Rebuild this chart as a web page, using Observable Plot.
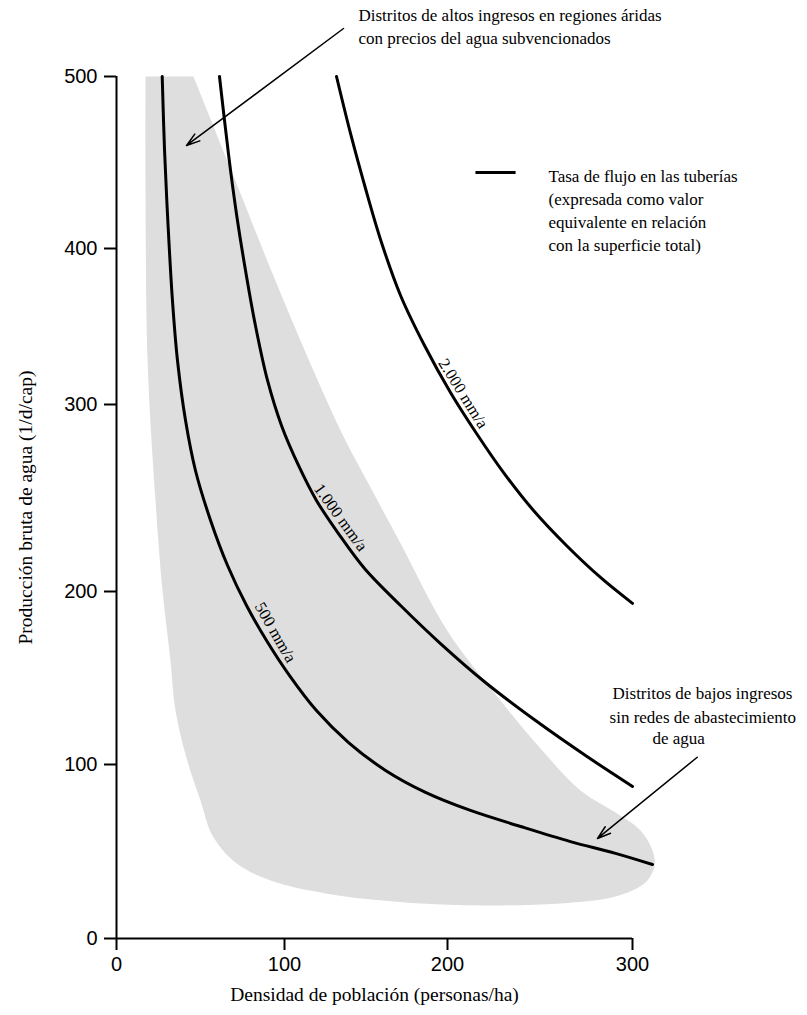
<!DOCTYPE html>
<html>
<head>
<meta charset="utf-8">
<script src="https://cdn.jsdelivr.net/npm/d3@7"></script>
<script src="https://cdn.jsdelivr.net/npm/@observablehq/plot@0.6"></script>
<style>
  body { margin: 0; background: #fff; }
</style>
</head>
<body>
<div id="chart"></div>
<script>
// Tick values
const xTicks = [0, 100, 200, 300];
const yTicks = [0, 100, 200, 300, 400, 500];

// Pipe flow-rate curves: density (persons/ha) and gross water production (l/d/cap)
const dens500  = [27.2, 28.6, 30.7, 33.3, 36.3, 41.1, 47.0, 56.0, 66.1, 77.4, 89.3, 103.1, 119.6, 139.3, 162, 186.5, 212.4, 239.5, 266.5, 290.8, 310.8];
const prod500  = [500, 457, 413.4, 366.7, 328.2, 291.4, 264.7, 238, 213.9, 191.9, 171.7, 151.4, 131.2, 112.7, 96.6, 84, 73.6, 64.4, 55.7, 48.9, 42.5];
const dens1000 = [61.3, 64.3, 67.9, 72.0, 76.8, 82.7, 89.9, 98.2, 108.6, 119.6, 133.1, 149.1, 171.2, 195.7, 220.5, 247.6, 274.6, 300];
const prod1000 = [500, 474.4, 445.3, 416.3, 385.9, 350.6, 315.4, 288.8, 267.4, 248.7, 231, 212.3, 191.9, 169.9, 147.4, 125.4, 105.2, 87.4];
const dens2000 = [131.9, 140.5, 149.7, 159.5, 171.2, 185.9, 201.6, 215.7, 230.3, 246.5, 264.3, 282.7, 300];
const prod2000 = [500, 466.9, 434.9, 403.5, 369.9, 337.8, 307.7, 284.5, 263.6, 243.3, 224.6, 207.5, 193.1];

// Shaded envelope of observed districts (outline, clockwise from top-right)
const envDens = [45.8, 67.9, 89.7, 109.8, 134.4, 152.8, 171.2, 199.8, 228.6, 250.3, 271.9, 290.8, 304.3, 310.8, 311.9, 307, 290.8, 261.1, 228.6, 196.2, 160.1, 125.2, 91.7, 70.8, 57.1, 50, 42.1, 35.1, 32.1, 27.4, 23.2, 18.5, 17.3, 17.3];
const envProd = [500, 446.5, 392.3, 341, 286.1, 255.6, 225.7, 177.5, 137, 109.2, 85.1, 72.4, 62.1, 50.6, 42, 32.2, 24.1, 20.1, 19, 19.5, 21.8, 25.9, 33.3, 43.7, 59.2, 79.3, 102.3, 131.2, 160.1, 200.5, 248.7, 328.2, 427.9, 500];

// Curve labels
const curveLabels = [
  {text: "500 mm/a",   x: 94.6,  y: 176.3, angle: 60},
  {text: "1.000 mm/a", x: 134.4, y: 239.6, angle: 54},
  {text: "2.000 mm/a", x: 208.5, y: 307,   angle: 58}
];

// Annotations
const notes = [
  {text: "Distritos de altos ingresos en regiones áridas\ncon precios del agua subvencionados", x: 145.4, y: 541.5},
  {text: "Tasa de flujo en las tuberías\n(expresada como valor\nequivalente en relación\ncon la superficie total)", x: 254.6, y: 448}
];
const noteLow = [
  {text: "Distritos de bajos ingresos", x: 289.2, y: 141},
  {text: "sin redes de abastecimiento", x: 287.6, y: 127.2},
  {text: "de agua", x: 310.8, y: 115}
];
const arrows = [
  {x1: 136.2, y1: 527.9, x2: 41.7, y2: 459.9},
  {x1: 335, y1: 104.2, x2: 281.1, y2: 57.5}
];
const legendLine = [{x1: 215.1, x2: 236.8, y: 444.2}];

const curves = [
  ...dens500.map((d, i) => ({rate: "500", x: d, y: prod500[i]})),
  ...dens1000.map((d, i) => ({rate: "1000", x: d, y: prod1000[i]})),
  ...dens2000.map((d, i) => ({rate: "2000", x: d, y: prod2000[i]}))
];
const envelope = envDens.map((d, i) => ({x: d, y: envProd[i]}));

const serif = "'Liberation Serif', 'Times New Roman', serif";
const sans = "'Liberation Sans', Arial, sans-serif";

const chart = Plot.plot({
  width: 807,
  height: 1015,
  marginLeft: 116,
  marginRight: 175,
  marginTop: 76,
  marginBottom: 77,
  style: {fontFamily: serif, fontSize: "16px", color: "black", background: "white", overflow: "visible"},
  x: {type: "linear", domain: xTicks, range: [116, 284, 447, 632]},
  y: {type: "linear", domain: yTicks, range: [938, 764, 591, 404, 248, 76]},
  marks: [
    Plot.line(envelope, {x: "x", y: "y", fill: "#dedede", stroke: "none", curve: "catmull-rom"}),
    Plot.line(curves, {x: "x", y: "y", z: "rate", stroke: "black", strokeWidth: 3, curve: "catmull-rom"}),
    Plot.text(curveLabels, {x: "x", y: "y", text: "text", rotate: "angle", fontSize: 16.5, fontFamily: serif, fill: "black"}),
    Plot.ruleX([0], {y1: 0, y2: 500, strokeWidth: 2}),
    Plot.ruleY([0], {x1: 0, x2: 300, strokeWidth: 2}),
    Plot.axisX({ticks: xTicks, tickSize: 12, tickPadding: 6, strokeWidth: 2, fontSize: 20, fontFamily: sans, label: null, tickFormat: d => d}),
    Plot.axisY({ticks: yTicks, tickSize: 12, tickPadding: 7, strokeWidth: 2, fontSize: 20, fontFamily: sans, label: null, tickFormat: d => d}),
    Plot.text(["Densidad de población (personas/ha)"], {frameAnchor: "bottom", dy: 62, fontSize: 19.5, fontFamily: serif}),
    Plot.text(["Producción bruta de agua (1/d/cap)"], {frameAnchor: "left", textAnchor: "middle", dx: -91, rotate: -90, fontSize: 19.5, fontFamily: serif}),
    Plot.text(notes, {x: "x", y: "y", text: "text", textAnchor: "start", lineAnchor: "top", lineHeight: 1.35, fontSize: 17, fontFamily: serif}),
    Plot.text(noteLow, {x: "x", y: "y", text: "text", textAnchor: "start", fontSize: 17, fontFamily: serif}),
    Plot.link(legendLine, {x1: "x1", x2: "x2", y1: "y", y2: "y", strokeWidth: 3, stroke: "black"}),
    Plot.arrow(arrows, {x1: "x1", y1: "y1", x2: "x2", y2: "y2", headLength: 14, headAngle: 35, strokeWidth: 1.5, stroke: "black"})
  ]
});
document.getElementById("chart").append(chart);
</script>
</body>
</html>
